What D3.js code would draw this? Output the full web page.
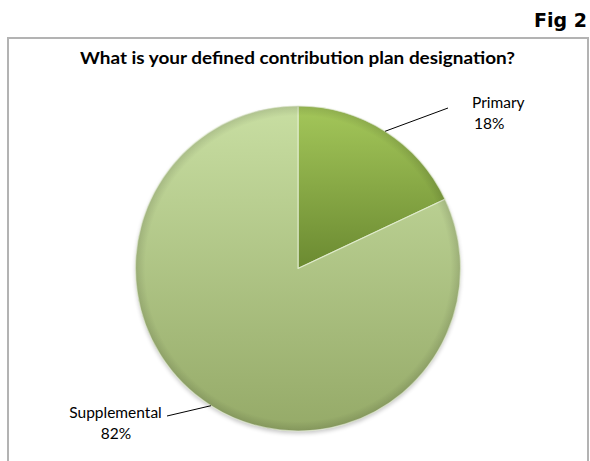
<!DOCTYPE html>
<html>
<head>
<meta charset="utf-8">
<script src="https://cdn.jsdelivr.net/npm/d3@7"></script>
<style>
  html, body { margin: 0; padding: 0; background: #ffffff; }
  svg { display: block; }
</style>
</head>
<body>
<svg id="chart" width="590" height="461"></svg>
<script>
// Plan designation shares (percent)
const categories = ["Primary", "Supplemental"];
const values = [18, 82];
const sliceTop = ["#a4c75a", "#c8dea2"];
const sliceBottom = ["#6b8a31", "#95aa68"];

const title = "What is your defined contribution plan designation?";

const cx = 298, cy = 268.5, r = 162.5;

const svg = d3.select("#chart");
const defs = svg.append("defs");

// Chart frame
svg.append("rect")
  .attr("x", 8).attr("y", 38)
  .attr("width", 580).attr("height", 440)
  .attr("fill", "#ffffff")
  .attr("stroke", "#b3b3b3").attr("stroke-width", 2);

// Figure tag
svg.append("text")
  .attr("x", 587).attr("y", 27)
  .attr("text-anchor", "end")
  .attr("font-family", "DejaVu Sans, sans-serif")
  .attr("font-weight", "bold")
  .attr("font-size", 19)
  .attr("fill", "#000")
  .text("Fig 2");

// Title
svg.append("text")
  .attr("x", 297.5).attr("y", 64)
  .attr("text-anchor", "middle")
  .attr("font-family", "Lato, 'Open Sans', sans-serif")
  .attr("font-weight", "bold")
  .attr("font-size", 17.5)
  .attr("textLength", 435)
  .attr("lengthAdjust", "spacingAndGlyphs")
  .attr("fill", "#000")
  .text(title);

// Slice gradients (coordinates relative to the pie centre)
categories.forEach((c, i) => {
  const lg = defs.append("linearGradient")
    .attr("id", "grad" + i)
    .attr("gradientUnits", "userSpaceOnUse")
    .attr("x1", 0).attr("y1", -r)
    .attr("x2", 0).attr("y2", i === 0 ? 0 : r);
  lg.append("stop").attr("offset", "0%").attr("stop-color", sliceTop[i]);
  lg.append("stop").attr("offset", "100%").attr("stop-color", sliceBottom[i]);
});

// Rim shading
const rim = defs.append("radialGradient")
  .attr("id", "rim")
  .attr("gradientUnits", "userSpaceOnUse")
  .attr("cx", 0).attr("cy", 0).attr("r", r);
rim.append("stop").attr("offset", "0.94").attr("stop-color", "#000").attr("stop-opacity", 0);
rim.append("stop").attr("offset", "1").attr("stop-color", "#000").attr("stop-opacity", 0.12);

// Drop shadow
const blur = defs.append("filter").attr("id", "shadow")
  .attr("x", "-20%").attr("y", "-20%").attr("width", "140%").attr("height", "140%");
blur.append("feGaussianBlur").attr("stdDeviation", 2);

const g = svg.append("g").attr("transform", `translate(${cx},${cy})`);

g.append("circle")
  .attr("cx", 0).attr("cy", 2.5).attr("r", r)
  .attr("fill", "#000").attr("opacity", 0.22)
  .attr("filter", "url(#shadow)");

const pie = d3.pie().sort(null).value(d => d)(values);
const arc = d3.arc().innerRadius(0).outerRadius(r);

g.selectAll("path.slice")
  .data(pie)
  .join("path")
  .attr("class", "slice")
  .attr("d", arc)
  .attr("fill", (d, i) => `url(#grad${i})`)
  .attr("stroke", "#e6f0d4")
  .attr("stroke-opacity", 0.8)
  .attr("stroke-width", 1.2)
  .attr("stroke-linejoin", "round");

g.append("circle")
  .attr("r", r)
  .attr("fill", "url(#rim)")
  .attr("pointer-events", "none");

// Leader lines and labels
const labelEnds = [[150, -160.5], [-131, 147.5]];
const labelLines = [
  [{ x: 174, y: -160.5, anchor: "start" }, { x: 176, y: -139.5, anchor: "start" }],
  [{ x: -182.5, y: 149.5, anchor: "middle" }, { x: -182, y: 170.5, anchor: "middle" }]
];
pie.forEach((d, i) => {
  const mid = (d.startAngle + d.endAngle) / 2;
  const p0 = [r * Math.sin(mid), -r * Math.cos(mid)];
  const p1 = labelEnds[i];
  g.append("line")
    .attr("x1", p0[0]).attr("y1", p0[1])
    .attr("x2", p1[0]).attr("y2", p1[1])
    .attr("stroke", "#000").attr("stroke-width", 1);
  const texts = [categories[i], values[i] + "%"];
  texts.forEach((s, j) => {
    const p = labelLines[i][j];
    g.append("text")
      .attr("x", p.x).attr("y", p.y)
      .attr("text-anchor", p.anchor)
      .attr("font-family", "Lato, 'Open Sans', sans-serif")
      .attr("font-size", 15.5)
      .attr("fill", "#000")
      .text(s);
  });
});
</script>
</body>
</html>
